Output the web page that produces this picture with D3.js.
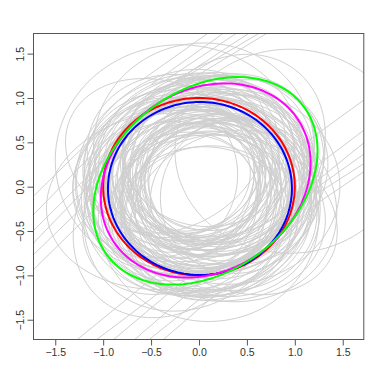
<!DOCTYPE html>
<html><head><meta charset="utf-8">
<script src="https://cdn.jsdelivr.net/npm/d3@7"></script>
<style>body{margin:0;background:#fff}svg{display:block}</style>
</head><body>
<script>
// gray fitted ellipses: centre x, centre y, semi-axis a, semi-axis b, rotation (deg)
const ellCx = [0.05,-0.05,0.10,0.00,-0.10,0.15,0.05,-0.15,0.20,0.00,-0.05,0.10,0.25,-0.20,0.05,0.15,-0.10,0.30,-0.25,0.00,0.20,-0.15,0.10,0.35,-0.30,0.05,0.20,-0.20,0.25,-0.05,0.00,0.15,-0.10,0.30,-0.30,0.10,0.05,0.40,-0.40,0.15,-0.10,0.00,0.20,-0.05,0.05,0.25,-0.25,0.10,-0.10,0.20,0.00,0.30,-0.20,-0.30,0.95,0.10,0.05,-0.35,0.40,0.30,-0.30,0.00,0.00,-0.05,0.12,0.08,-0.18,0.22,
  -0.08,0.14,0.02,-0.12,0.18,0.06,-0.02,0.10,-0.20,0.24,0.00,0.16,-0.14,0.08,0.28,-0.06,0.12,-0.24,0.04,0.20,-0.10,0.32,-0.16,0.00,0.10,0.06,-0.04,0.18];
const ellCy = [0.10,0.05,0.00,0.15,-0.05,0.10,-0.10,0.10,-0.05,0.00,0.20,0.15,0.10,-0.10,-0.20,0.25,0.00,-0.15,0.20,0.30,-0.25,-0.25,0.05,0.05,0.05,-0.30,0.30,0.35,0.20,-0.15,0.10,-0.10,0.15,0.30,-0.30,0.40,-0.40,-0.10,0.10,0.00,0.10,-0.05,0.05,0.25,-0.25,-0.30,0.40,0.20,-0.20,-0.15,0.00,0.00,0.30,-0.15,0.40,-0.35,0.45,0.30,-0.30,0.35,-0.35,0.20,-0.20,0.12,-0.05,0.18,-0.08,0.02,
  0.18,0.06,-0.12,0.04,0.14,0.22,-0.18,-0.02,0.12,-0.10,0.08,0.28,-0.22,-0.28,0.16,0.00,0.12,0.24,0.30,-0.20,-0.06,0.10,0.02,0.06,-0.14,0.26,0.34,-0.32];
const ellA  = [0.62,0.70,0.75,0.80,0.78,0.85,0.88,0.90,0.92,0.95,0.97,1.00,0.98,1.00,1.02,1.05,1.05,1.00,0.95,1.00,1.08,1.05,1.10,0.95,0.98,1.00,1.02,0.98,1.12,1.15,1.18,1.20,1.22,1.00,1.00,0.90,0.92,0.88,0.90,0.68,0.66,0.72,0.80,0.82,0.84,1.05,1.05,1.25,1.25,1.28,1.30,1.17,1.30,1.30,1.20,1.15,1.15,1.10,1.10,1.20,1.18,1.35,1.35,1.12,0.94,1.08,1.02,0.86,
  0.74,0.82,0.90,0.96,1.04,0.86,0.92,1.08,0.88,0.94,1.14,0.98,1.02,0.96,0.90,1.10,0.78,0.92,1.00,1.06,0.70,0.96,1.12,0.84,1.16,0.88,0.94,1.00];
const ellB  = [0.58,0.65,0.68,0.72,0.70,0.74,0.80,0.78,0.85,0.88,0.82,0.86,0.90,0.92,0.90,0.88,0.95,0.85,0.88,0.80,0.92,0.95,1.00,0.90,0.85,0.88,0.92,0.90,1.00,1.02,1.05,1.05,1.10,0.80,0.82,0.85,0.85,0.80,0.80,0.62,0.60,0.64,0.60,0.66,0.70,0.85,0.82,1.08,1.05,1.10,1.15,1.10,1.30,1.00,1.15,1.17,1.17,0.85,0.85,0.95,0.95,1.00,1.05,0.98,0.86,0.96,0.90,0.78,
  0.66,0.72,0.80,0.84,0.90,0.78,0.82,0.94,0.76,0.86,1.00,0.84,0.92,0.88,0.80,0.96,0.70,0.80,0.90,0.94,0.64,0.86,0.98,0.74,1.02,0.82,0.80,0.90];
const ellAng= [20,-30,45,10,60,-15,35,80,25,-40,50,5,70,-20,40,-60,15,30,-10,45,55,-35,20,-45,65,10,35,-25,50,-5,40,-50,30,45,45,0,0,80,80,-20,40,75,45,-45,15,40,40,10,60,-30,45,0,0,10,0,0,0,-30,-30,60,60,20,-20,-70,25,-10,55,35,
  30,-25,50,-60,15,85,40,-10,65,25,-40,5,55,-15,70,35,-50,20,45,-30,10,60,-5,80,30,-35,45,15];

// near-straight hyperbola branches: start and end points (data units)
const hypX1 = [-1.75,-1.75,-1.75,-1.75,-1.75,-1.75, 1.75,1.75,1.75,1.75,1.75,1.75, 0.12,0.28,0.42,0.55,0.66,0.74, -1.30,-1.10,-0.92,-0.70,-0.55,-0.40];
const hypY1 = [-0.13,-0.34,-0.52,-0.66,-0.79,-0.96, 1.00,0.66,0.52,0.39,0.28,0.19, 1.75,1.75,1.75,1.75,1.75,1.75, -1.75,-1.75,-1.75,-1.75,-1.75,-1.75];
const hypX2 = [-0.95,-0.90,-0.85,-0.80,-0.85,-0.80, 1.05,1.00,1.10,1.05,1.20,1.15, -0.60,-0.50,-0.35,-0.30,-0.20,-0.10, -0.45,-0.30,-0.15,0.05,0.20,0.30];
const hypY2 = [0.72,0.60,0.45,0.40,0.15,0.05, 0.45,0.05,-0.05,-0.15,-0.10,-0.25, 1.20,1.15,1.20,1.15,1.20,1.20, -1.00,-1.10,-1.05,-1.05,-1.10,-1.10];

// highlighted ellipses: true circle and estimators
const fitNames = ["red","blue","magenta","green"];
const fitCx = [0.00,0.01,0.07,0.067];
const fitCy = [0.00,-0.02,0.07,0.066];
const fitA  = [1.00,0.96,1.19,1.33];
const fitB  = [1.00,0.975,0.99,0.985];
const fitAng= [0,0,45,45];
const fitColors = ["#ff0000","#0000ff","#ff00ff","#00ff00"];

const xTicks = [-1.5,-1.0,-0.5,0.0,0.5,1.0,1.5];
const yTicks = [-1.5,-1.0,-0.5,0.0,0.5,1.0,1.5];

const W = 382, H = 382;
const svg = d3.select("body").append("svg").attr("width", W).attr("height", H);
const x = d3.scaleLinear().domain([-1.727, 1.72]).range([33.5, 363.8]);
const y = d3.scaleLinear().domain([-1.723, 1.727]).range([339.5, 33.5]);

svg.append("clipPath").attr("id","clip").append("rect")
  .attr("x", 33.5).attr("y", 33.5).attr("width", 363.8-33.5).attr("height", 339.5-33.5);

const g = svg.append("g").attr("clip-path","url(#clip)");
const line = d3.line().x(d => x(d[0])).y(d => y(d[1]));

function ellipsePts(cx, cy, a, b, angDeg) {
  const th = angDeg * Math.PI / 180, c = Math.cos(th), s = Math.sin(th);
  return d3.range(0, 181).map(i => {
    const t = i / 180 * 2 * Math.PI;
    const u = a * Math.cos(t), v = b * Math.sin(t);
    return [cx + u * c - v * s, cy + u * s + v * c];
  });
}

ellCx.forEach((cx, i) => {
  g.append("path").attr("d", line(ellipsePts(cx, ellCy[i], ellA[i], ellB[i], ellAng[i])))
    .attr("fill","none").attr("stroke","#cfcfcf").attr("stroke-width",1);
});
hypX1.forEach((x1, i) => {
  g.append("path").attr("d", line([[x1, hypY1[i]], [hypX2[i], hypY2[i]]]))
    .attr("fill","none").attr("stroke","#cfcfcf").attr("stroke-width",1);
});
fitNames.forEach((n, i) => {
  g.append("path").attr("class","fit-"+n)
    .attr("d", line(ellipsePts(fitCx[i], fitCy[i], fitA[i], fitB[i], fitAng[i])))
    .attr("fill","none").attr("stroke",fitColors[i]).attr("stroke-width",2);
});

// box
svg.append("rect").attr("x",33.5).attr("y",33.5).attr("width",363.8-33.5).attr("height",339.5-33.5)
  .attr("fill","none").attr("stroke","#555").attr("stroke-width",1);

const fmt = d3.format(".1f");
const xa = svg.append("g").attr("transform","translate(0,339.5)")
  .call(d3.axisBottom(x).tickValues(xTicks).tickFormat(fmt).tickSize(6).tickSizeOuter(0));
xa.select(".domain").remove();
xa.selectAll(".tick line").attr("stroke","#555");
xa.selectAll(".tick text").attr("dy","0.71em").attr("y",9)
  .attr("font-family","Liberation Sans, Arial, sans-serif").attr("font-size","10.5px").attr("fill","#333");

const ya = svg.append("g").attr("transform","translate(33.5,0)")
  .call(d3.axisLeft(y).tickValues(yTicks).tickFormat(fmt).tickSize(6).tickSizeOuter(0));
ya.select(".domain").remove();
ya.selectAll(".tick line").attr("stroke","#555");
ya.selectAll(".tick text").attr("x",0).attr("dy",0)
  .attr("transform","translate(-9.5,0) rotate(-90)")
  .attr("text-anchor","middle")
  .attr("font-family","Liberation Sans, Arial, sans-serif").attr("font-size","10.5px").attr("fill","#333");
</script>
</body></html>
